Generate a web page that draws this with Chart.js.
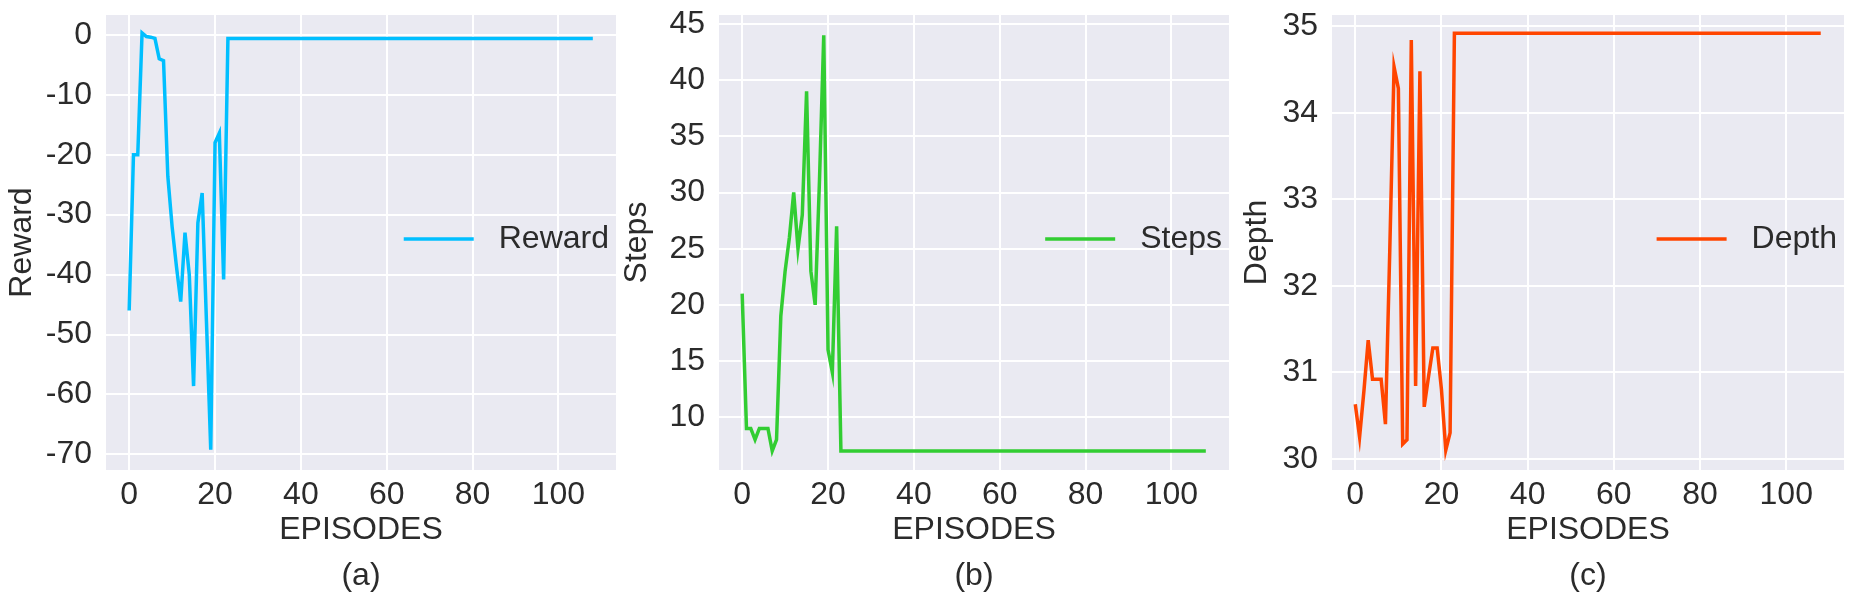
<!DOCTYPE html>
<html>
<head>
<meta charset="utf-8">
<script src="https://cdn.jsdelivr.net/npm/chart.js@4.4.1/dist/chart.umd.min.js"></script>
<style>
  html, body { margin: 0; padding: 0; background: #fff; overflow: hidden; }
  #wrap { position: relative; width: 1854px; height: 596px; }
  canvas { position: absolute; top: 0; }
</style>
</head>
<body>
<div id="wrap">
  <canvas id="chartA" width="618" height="596" style="left:0px"></canvas>
  <canvas id="chartB" width="618" height="596" style="left:618px"></canvas>
  <canvas id="chartC" width="618" height="596" style="left:1236px"></canvas>
</div>
<script>
// values, episode 0 .. 108
var reward = [
  -46, -20, -20, 0.3, -0.3, -0.4, -0.6, -4, -4.3, -23.6, -32, -38.6, -44.5, -33, -40, -58.6,
  -31.4, -26.4, -47.8, -69.2, -18, -16.4, -40.8, -0.6,
  -0.6, -0.6, -0.6, -0.6, -0.6, -0.6, -0.6, -0.6, -0.6, -0.6, -0.6, -0.6, -0.6, -0.6, -0.6, -0.6, -0.6,
  -0.6, -0.6, -0.6, -0.6, -0.6, -0.6, -0.6, -0.6, -0.6, -0.6, -0.6, -0.6, -0.6, -0.6, -0.6, -0.6, -0.6,
  -0.6, -0.6, -0.6, -0.6, -0.6, -0.6, -0.6, -0.6, -0.6, -0.6, -0.6, -0.6, -0.6, -0.6, -0.6, -0.6, -0.6,
  -0.6, -0.6, -0.6, -0.6, -0.6, -0.6, -0.6, -0.6, -0.6, -0.6, -0.6, -0.6, -0.6, -0.6, -0.6, -0.6, -0.6,
  -0.6, -0.6, -0.6, -0.6, -0.6, -0.6, -0.6, -0.6, -0.6, -0.6, -0.6, -0.6, -0.6, -0.6, -0.6, -0.6, -0.6
];
var steps = [
  21, 9, 9, 8, 9, 9, 9, 7, 8, 19, 23, 26, 30, 25, 28, 39, 23, 20, 31, 44, 16, 14, 27, 7,
  7, 7, 7, 7, 7, 7, 7, 7, 7, 7, 7, 7, 7, 7, 7, 7, 7,
  7, 7, 7, 7, 7, 7, 7, 7, 7, 7, 7, 7, 7, 7, 7, 7, 7,
  7, 7, 7, 7, 7, 7, 7, 7, 7, 7, 7, 7, 7, 7, 7, 7, 7,
  7, 7, 7, 7, 7, 7, 7, 7, 7, 7, 7, 7, 7, 7, 7, 7, 7,
  7, 7, 7, 7, 7, 7, 7, 7, 7, 7, 7, 7, 7, 7, 7, 7, 7
];
var depth = [
  30.63, 30.25, 30.78, 31.37, 30.92, 30.92, 30.92, 30.4, 32.4, 34.53, 34.28, 30.17, 30.22, 34.84,
  30.84, 34.48, 30.6, 30.95, 31.28, 31.28, 30.8, 30.1, 30.3, 34.92,
  34.92, 34.92, 34.92, 34.92, 34.92, 34.92, 34.92, 34.92, 34.92, 34.92, 34.92, 34.92, 34.92, 34.92, 34.92, 34.92, 34.92,
  34.92, 34.92, 34.92, 34.92, 34.92, 34.92, 34.92, 34.92, 34.92, 34.92, 34.92, 34.92, 34.92, 34.92, 34.92, 34.92, 34.92,
  34.92, 34.92, 34.92, 34.92, 34.92, 34.92, 34.92, 34.92, 34.92, 34.92, 34.92, 34.92, 34.92, 34.92, 34.92, 34.92, 34.92,
  34.92, 34.92, 34.92, 34.92, 34.92, 34.92, 34.92, 34.92, 34.92, 34.92, 34.92, 34.92, 34.92, 34.92, 34.92, 34.92, 34.92,
  34.92, 34.92, 34.92, 34.92, 34.92, 34.92, 34.92, 34.92, 34.92, 34.92, 34.92, 34.92, 34.92, 34.92, 34.92, 34.92, 34.92
];
var episodes = reward.map(function (v, i) { return i; });

var xTicks = [0, 20, 40, 60, 80, 100];
var rewardTicks = [-70, -60, -50, -40, -30, -20, -10, 0];
var stepsTicks = [10, 15, 20, 25, 30, 35, 40, 45];
var depthTicks = [30, 31, 32, 33, 34, 35];

var FONT = '"Liberation Sans", Arial, sans-serif';
var TEXT = '#2b2b2b';

// seaborn style grey panel
var panelBg = {
    id: 'panelBg',
    beforeDraw: function (chart) {
        var a = chart.chartArea, ctx = chart.ctx;
        ctx.save();
        ctx.fillStyle = '#EAEAF2';
        ctx.fillRect(a.left, a.top, a.right - a.left, a.bottom - a.top);
        ctx.restore();
    }
};

// legend at centre right, inside the panel
var legendInside = {
    id: 'legendInside',
    afterDatasetsDraw: function (chart) {
        var a = chart.chartArea, ctx = chart.ctx;
        var ds = chart.data.datasets[0];
        ctx.save();
        ctx.font = '32px ' + FONT;
        var w = ctx.measureText(ds.label).width;
        var xText = a.right - 7 - w;
        var y = (a.top + a.bottom) / 2 - 3.5;
        ctx.strokeStyle = ds.borderColor;
        ctx.lineWidth = 3.5;
        ctx.beginPath();
        ctx.moveTo(xText - 25 - 70, y);
        ctx.lineTo(xText - 25, y);
        ctx.stroke();
        ctx.fillStyle = TEXT;
        ctx.textBaseline = 'middle';
        ctx.fillText(ds.label, xText, y);
        ctx.restore();
    }
};

function makePanel(id, p) {
    var ctx = document.getElementById(id).getContext('2d');
    return new Chart(ctx, {
        type: 'line',
        data: {
            labels: episodes,
            datasets: [{
                label: p.label,
                data: p.values,
                borderColor: p.color,
                borderWidth: 3.5,
                pointRadius: 0,
                tension: 0,
                fill: false
            }]
        },
        options: {
            responsive: false,
            animation: false,
            devicePixelRatio: 1,
            layout: { padding: { left: 0, top: 15, right: p.padRight, bottom: 0 } },
            plugins: { legend: { display: false }, tooltip: { enabled: false } },
            scales: {
                x: {
                    type: 'linear',
                    min: -5.4,
                    max: 113.4,
                    afterBuildTicks: function (s) { s.ticks = xTicks.map(function (v) { return { value: v }; }); },
                    afterFit: function (s) { s.height = 126; s.paddingLeft = 0; s.paddingRight = 0; },
                    grid: { color: '#ffffff', lineWidth: 2, drawTicks: false },
                    border: { display: false },
                    ticks: { color: TEXT, padding: 6, font: { family: FONT, size: 32 } },
                    title: {
                        display: true,
                        text: ['EPISODES', p.tag],
                        color: TEXT,
                        font: { family: FONT, size: 32, lineHeight: 1.44 },
                        padding: { top: 0, bottom: -3 }
                    }
                },
                y: {
                    min: p.yMin,
                    max: p.yMax,
                    afterBuildTicks: function (s) { s.ticks = p.ticks.map(function (v) { return { value: v }; }); },
                    afterFit: function (s) { s.width = p.left; s.paddingTop = 0; s.paddingBottom = 0; },
                    grid: { color: '#ffffff', lineWidth: 2, drawTicks: false },
                    border: { display: false },
                    ticks: { color: TEXT, padding: 14, font: { family: FONT, size: 32 } },
                    title: {
                        display: true,
                        text: p.label,
                        color: TEXT,
                        font: { family: FONT, size: 32 },
                        padding: { top: p.titlePad, bottom: 0 }
                    }
                }
            }
        },
        plugins: [panelBg, legendInside]
    });
}

makePanel('chartA', {
    label: 'Reward', tag: '(a)', values: reward, color: '#00BFFF',
    yMin: -72.6, yMax: 3.3, ticks: rewardTicks, left: 106, padRight: 2, titlePad: 3
});
makePanel('chartB', {
    label: 'Steps', tag: '(b)', values: steps, color: '#32CD32',
    yMin: 5.3, yMax: 45.8, ticks: stepsTicks, left: 101, padRight: 7, titlePad: 0
});
makePanel('chartC', {
    label: 'Depth', tag: '(c)', values: depth, color: '#FF4500',
    yMin: 29.87, yMax: 35.13, ticks: depthTicks, left: 96, padRight: 10, titlePad: 2
});
</script>
</body>
</html>
